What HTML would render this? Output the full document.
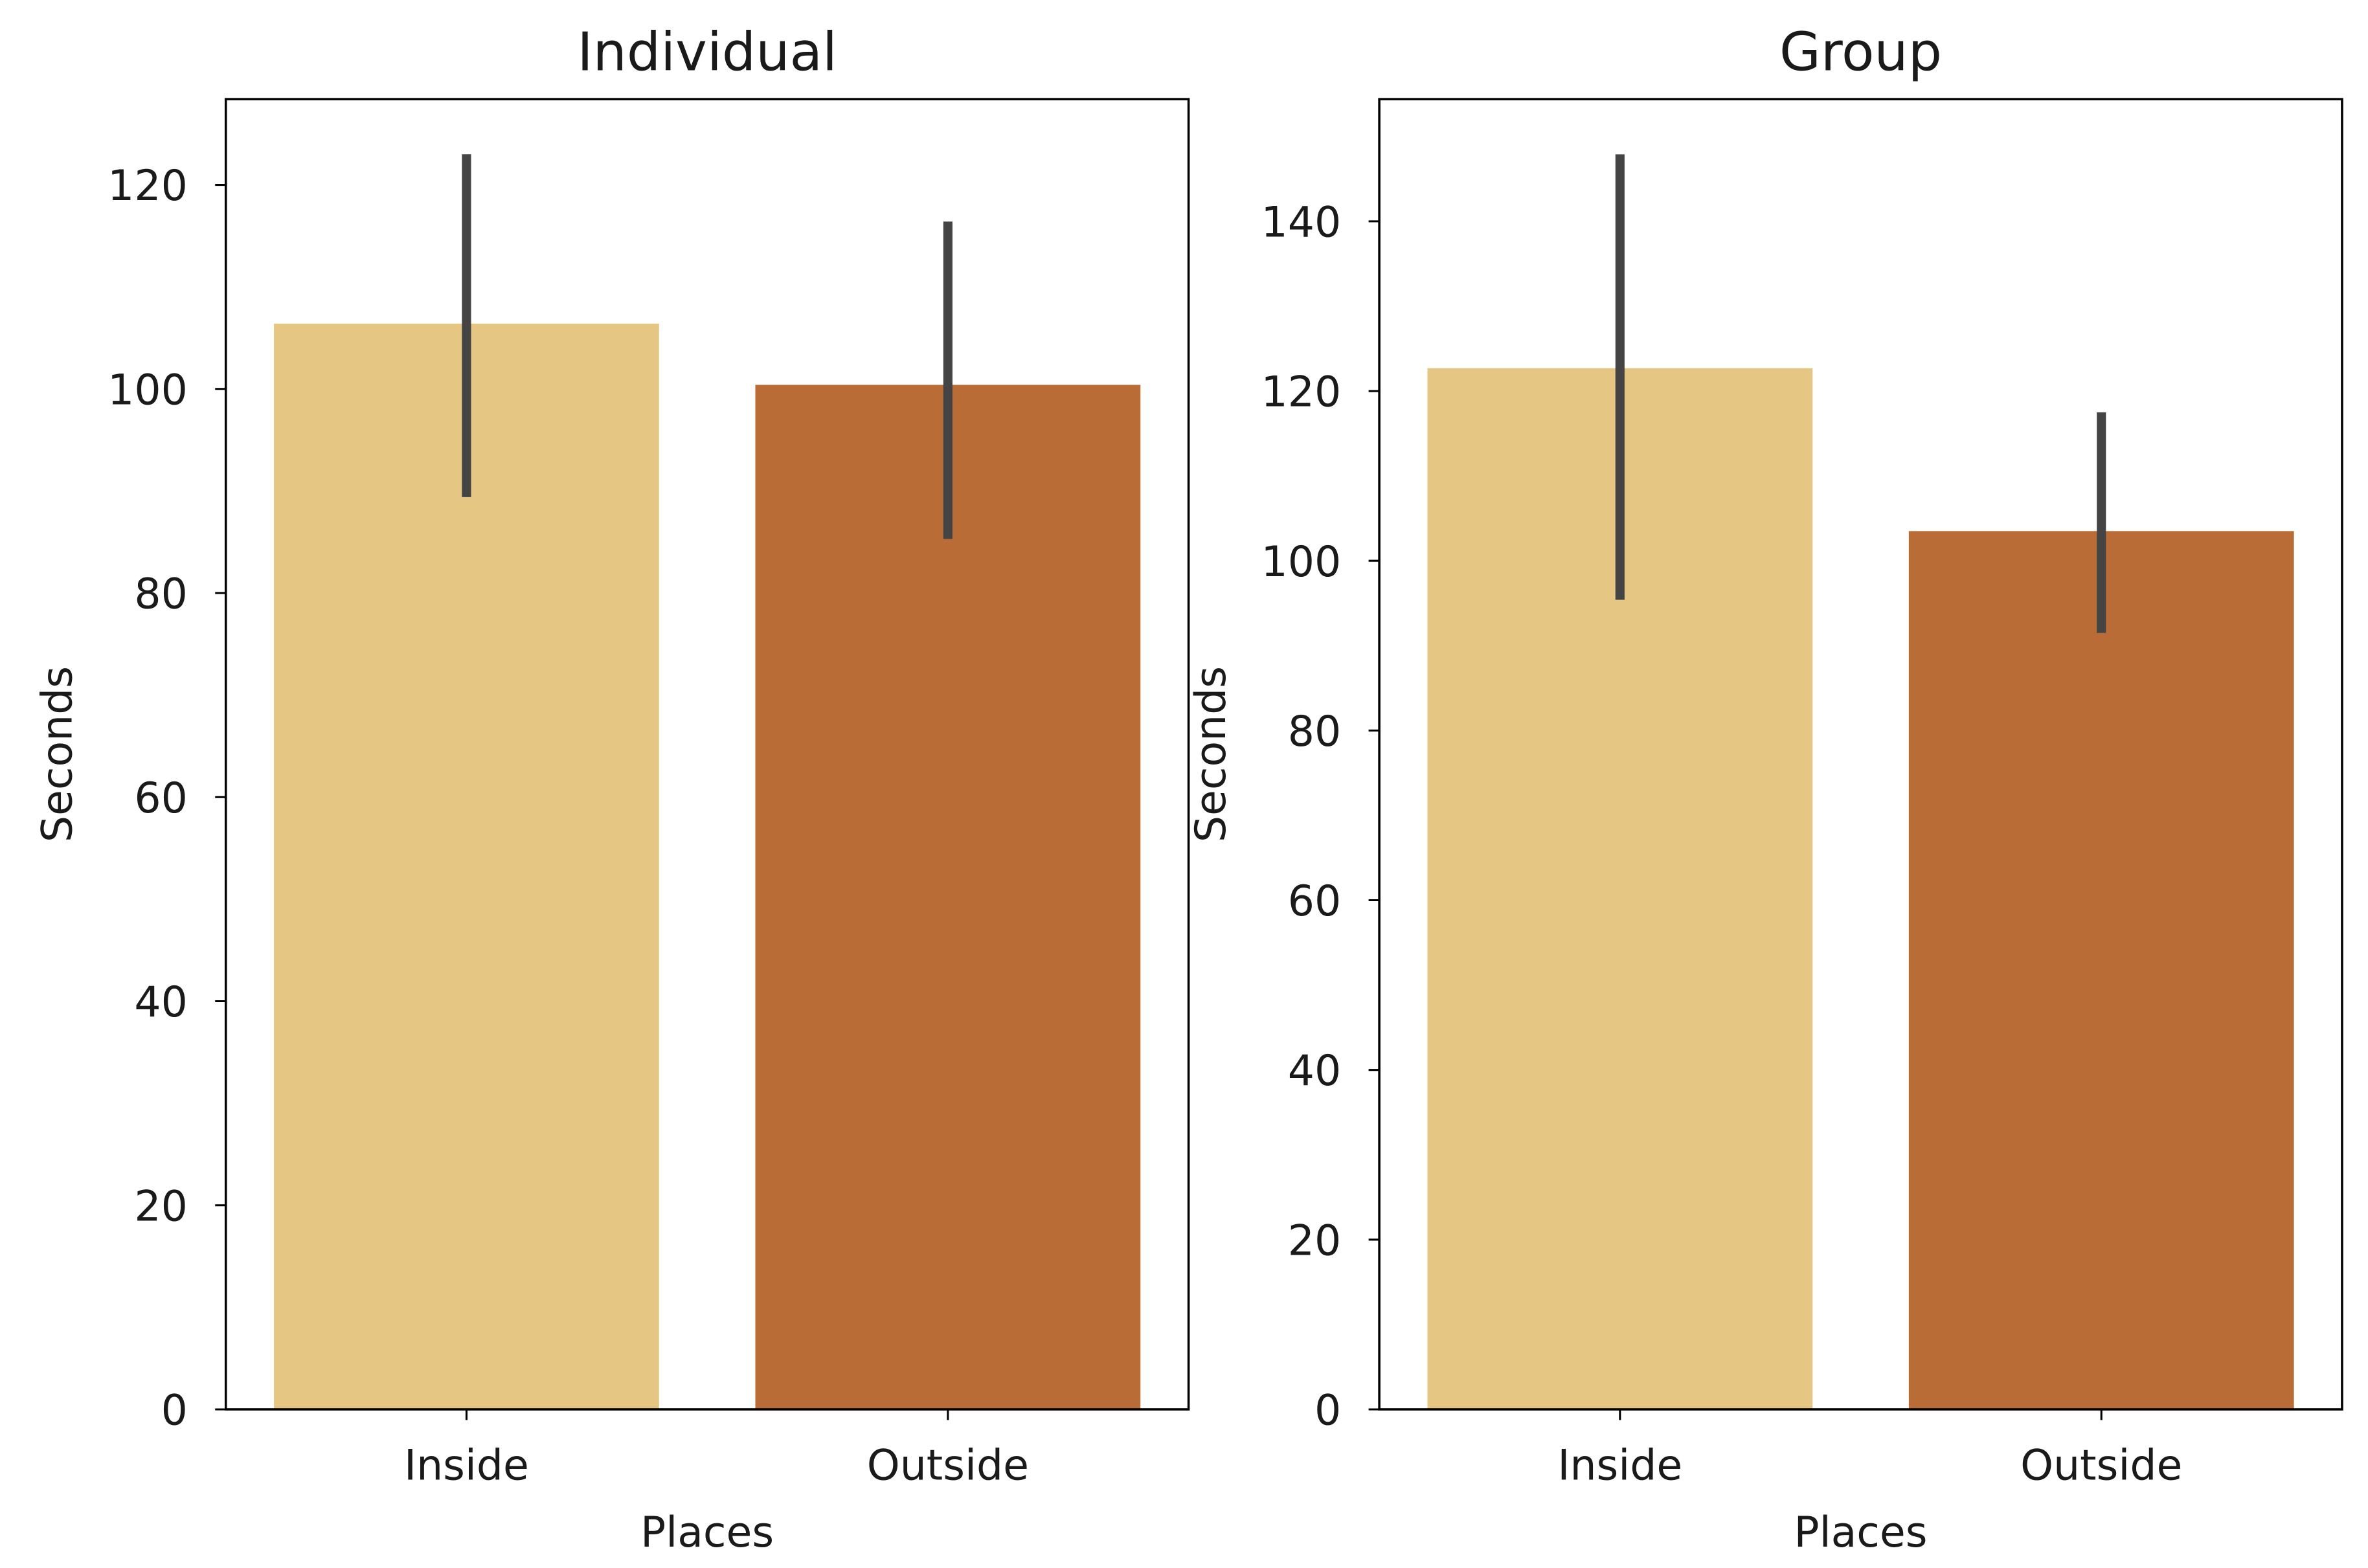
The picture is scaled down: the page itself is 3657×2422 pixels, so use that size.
<!DOCTYPE html>
<html><head><meta charset="utf-8"><style>
html,body{margin:0;padding:0;background:#fff;}
svg{display:block;}
text{font-family:"DejaVu Sans","Liberation Sans",sans-serif;fill:#1a1a1a;}
</style></head><body>
<svg id="chart" width="3657" height="2422" viewBox="0 0 1552 1028" preserveAspectRatio="none" xmlns="http://www.w3.org/2000/svg"></svg>
<script>
const categories = ["Inside", "Outside"];
const indivValues = [106.4, 100.4];
const indivLow = [89.4, 85.3];
const indivHigh = [123.0, 116.4];
const groupValues = [122.7, 103.5];
const groupLow = [95.4, 91.5];
const groupHigh = [147.9, 117.5];
const indivTicks = [0, 20, 40, 60, 80, 100, 120];
const groupTicks = [0, 20, 40, 60, 80, 100, 120, 140];
const barColors = ["#e5c682", "#b96c36"];

const NS = "http://www.w3.org/2000/svg";
const svg = document.getElementById("chart");
function mk(tag, attrs, parent) {
  const e = document.createElementNS(NS, tag);
  for (const k in attrs) e.setAttribute(k, attrs[k]);
  (parent || svg).appendChild(e);
  return e;
}
function panel(name, x0, x1, yTop, yBot, ymax, vals, lo, hi, ticks, title) {
  const g = mk("g", {});
  
  
  const y = v => yBot - (v / ymax) * (yBot - yTop);
  const band = (x1 - x0) / categories.length;
  const xc = i => x0 + band * (i + 0.5);
  categories.forEach((c, i) => {
    const bw = band * 0.8;
    const r = mk("rect", {x: xc(i) - bw / 2, y: y(vals[i]), width: bw, height: yBot - y(vals[i]), fill: barColors[i]}, g);
    
    
    const l = mk("line", {x1: xc(i), x2: xc(i), y1: y(lo[i]), y2: y(hi[i]), stroke: "#444", "stroke-width": 6}, g);
    
    
    mk("line", {x1: xc(i), x2: xc(i), y1: yBot, y2: yBot + 7, stroke: "#000", "stroke-width": 1.3}, g);
    const t = mk("text", {x: xc(i), y: 970, "text-anchor": "middle", "font-size": 27.5}, g);
    t.textContent = c;
    
    
  });
  ticks.forEach(v => {
    mk("line", {x1: x0 - 7, x2: x0, y1: y(v), y2: y(v), stroke: "#000", "stroke-width": 1.3}, g);
    const t = mk("text", {x: x0 - 25, y: y(v) + 10, "text-anchor": "end", "font-size": 27.5}, g);
    t.textContent = v;
    
    
  });
  const f = mk("rect", {x: x0, y: yTop, width: x1 - x0, height: yBot - yTop, fill: "none", stroke: "#000", "stroke-width": 1.5}, g);
  
  
  const tt = mk("text", {x: (x0 + x1) / 2, y: 46, "text-anchor": "middle", "font-size": 35}, g);
  tt.textContent = title;
  
  
  const xl = mk("text", {x: (x0 + x1) / 2, y: 1014, "text-anchor": "middle", "font-size": 27.5}, g);
  xl.textContent = "Places";
  
  
  const yl = mk("text", {x: 0, y: 0, "text-anchor": "middle", "font-size": 27.5, transform: "translate(" + (x0 - 101) + "," + ((yTop + yBot) / 2) + ") rotate(-90)"}, g);
  yl.textContent = "Seconds";
  
  
}
panel("individual", 148, 779, 65, 924, 128.4, indivValues, indivLow, indivHigh, indivTicks, "Individual");
panel("group", 904, 1535, 65, 924, 154.4, groupValues, groupLow, groupHigh, groupTicks, "Group");
</script>
</body></html>
